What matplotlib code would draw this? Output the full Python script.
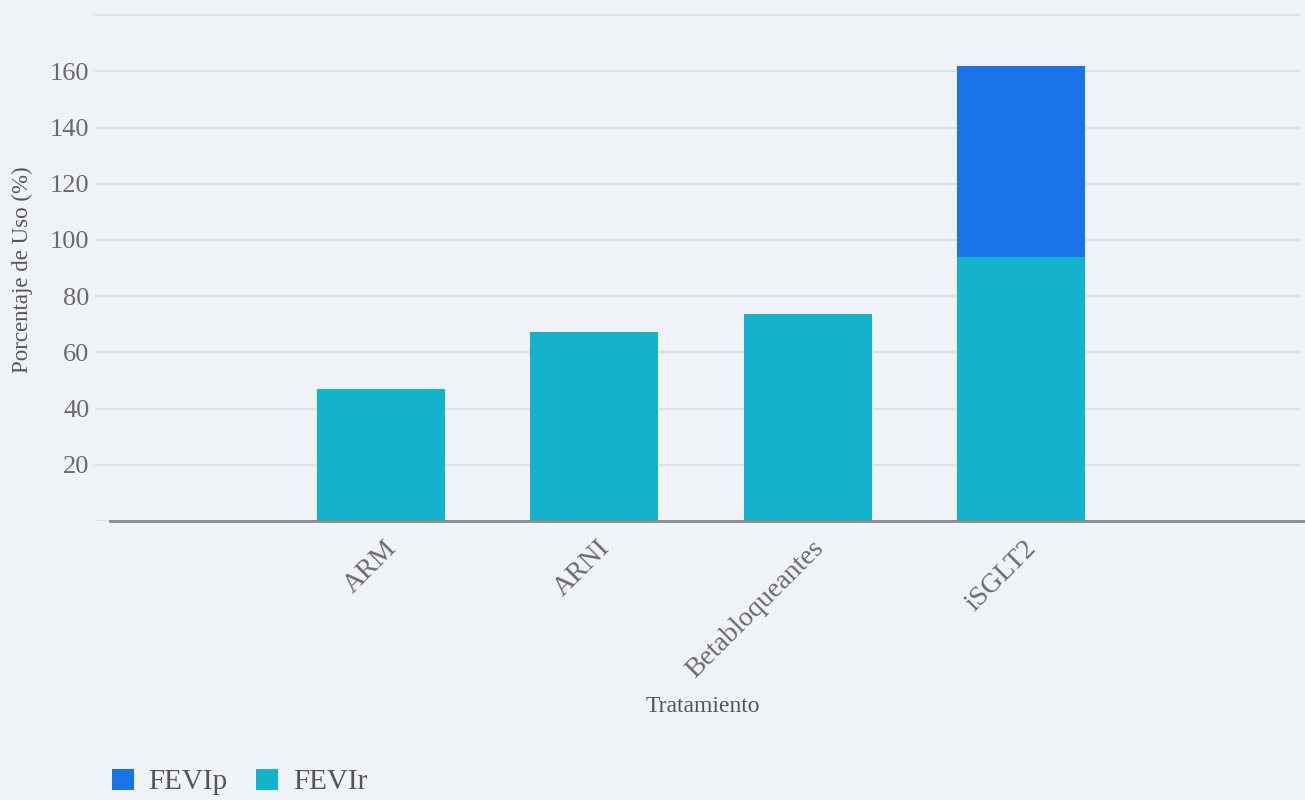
import numpy as np
import matplotlib
matplotlib.use("Agg")
import matplotlib.pyplot as plt
from matplotlib.patches import Patch
from matplotlib.transforms import ScaledTranslation

plt.rcParams["font.family"] = ["Liberation Serif", "DejaVu Serif"]

tratamientos = ["ARM", "ARNI", "Betabloqueantes", "iSGLT2"]
fevir = [46.9, 67.2, 73.6, 93.8]
fevip = [0.0, 0.0, 0.0, 68.1]
yticks = [0, 20, 40, 60, 80, 100, 120, 140, 160, 180]

BG = "#eff2f7"
C_FEVIR = "#13b4cb"
C_FEVIP = "#1a73e8"
GRID = "#dcdfe6"
TXT = "#6b6b6b"

fig = plt.figure(figsize=(13.05, 8.0), dpi=100, facecolor=BG)
ax = fig.add_axes([95 / 1305, 1 - 521 / 800, 1205 / 1305, 521 / 800])
ax.set_facecolor(BG)

x = np.arange(len(tratamientos))
ax.bar(x, fevir, width=0.6, color=C_FEVIR, zorder=3)
ax.bar(x, fevip, width=0.6, bottom=fevir, color=C_FEVIP, zorder=3)

xmin, xmax = -1.343, 4.31
ax.set_xlim(xmin, xmax)
ax.set_ylim(0, 185.4)

ax.set_yticks(yticks)
ax.set_yticklabels(["" if v in (0, 180) else str(v) for v in yticks])
ax.yaxis.grid(True, color=GRID, lw=1.6, zorder=0)
ax.tick_params(axis="y", length=0, pad=4, labelsize=19, labelcolor=TXT)

ax.set_xticks(x)
ax.set_xticklabels(tratamientos, rotation=45, ha="right", va="center",
                   rotation_mode="anchor", fontsize=20, color=TXT)
ax.tick_params(axis="x", length=0, pad=14)
shift = ScaledTranslation(12 / 100, -4 / 100, fig.dpi_scale_trans)
for lbl in ax.get_xticklabels():
    lbl.set_transform(lbl.get_transform() + shift)

for s in ("top", "right", "left"):
    ax.spines[s].set_visible(False)
# zero line starts a little to the right of the gridlines
ax.spines["bottom"].set_bounds(xmin + (xmax - xmin) * 15 / 1205, xmax + 0.03)
ax.spines["bottom"].set_color("#8a8a8a")
ax.spines["bottom"].set_linewidth(2.0)
ax.spines["bottom"].set_zorder(4)

fig.text(703 / 1305, 1 - 706 / 800, "Tratamiento", ha="center", va="center",
         fontsize=17, color="#555555")
fig.text(22 / 1305, 1 - 270 / 800, "Porcentaje de Uso (%)", ha="center",
         va="center", rotation=90, fontsize=16.5, color="#555555")

handles = [Patch(facecolor=C_FEVIP, label="FEVIp"),
           Patch(facecolor=C_FEVIR, label="FEVIr")]
fig.legend(handles=handles, loc="center left", bbox_to_anchor=(100 / 1305, 1 - 782 / 800),
           ncol=2, frameon=False, fontsize=21, labelcolor="#555555",
           handlelength=0.75, handleheight=0.75, handletextpad=0.5,
           columnspacing=1.0, borderaxespad=0)

fig.savefig("out.png", dpi=100, facecolor=BG)
